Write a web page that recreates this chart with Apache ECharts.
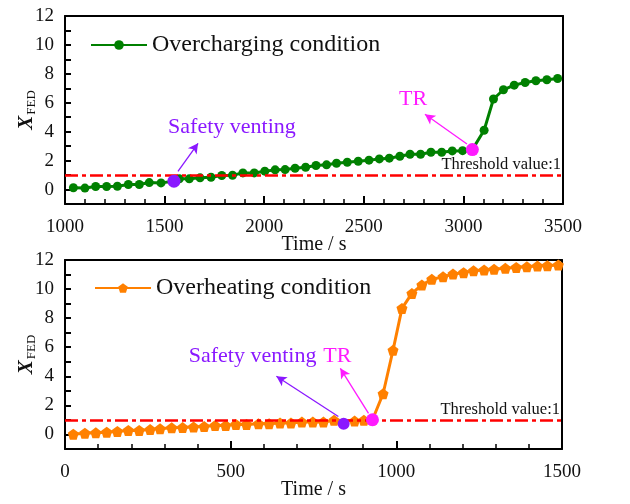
<!DOCTYPE html>
<html>
<head>
<meta charset="utf-8">
<script src="https://cdn.jsdelivr.net/npm/echarts@6/dist/echarts.min.js"></script>
<style>
  html, body { margin: 0; padding: 0; background: #fff; }
  #chart { width: 630px; height: 504px; }
</style>
</head>
<body>
<div id="chart"></div>
<script>
// overcharging condition (top panel)
const chargeTime = [1042, 1100, 1154, 1209, 1263, 1318, 1373, 1423, 1482, 1547, 1574, 1624, 1678, 1733, 1787, 1841,
  1893, 1950, 2003, 2055, 2105, 2155, 2208, 2260, 2313, 2363, 2417, 2472, 2526, 2578, 2628, 2681, 2732, 2785,
  2837, 2891, 2944, 2996, 3045, 3104, 3151, 3201, 3255, 3310, 3364, 3419, 3473];
const chargeFed = [0.12, 0.1, 0.21, 0.21, 0.23, 0.35, 0.35, 0.48, 0.46, 0.58, 0.74, 0.74, 0.81, 0.85, 0.97, 0.99,
  1.15, 1.15, 1.27, 1.36, 1.38, 1.47, 1.54, 1.66, 1.71, 1.82, 1.89, 1.96, 2.03, 2.12, 2.17, 2.3, 2.44, 2.44,
  2.58, 2.58, 2.67, 2.69, 2.76, 4.1, 6.26, 6.9, 7.22, 7.4, 7.52, 7.59, 7.68];

// overheating condition (bottom panel)
const heatTime = [25, 60, 93, 126, 158, 191, 224, 257, 287, 322, 355, 388, 420, 453, 485, 516, 548, 584, 616, 649,
  682, 715, 748, 780, 812, 874, 902, 928, 960, 990, 1017, 1047, 1077, 1107, 1141, 1171, 1203, 1233, 1265, 1295,
  1329, 1362, 1394, 1426, 1456, 1489];
const heatFed = [0.02, 0.09, 0.11, 0.16, 0.21, 0.28, 0.28, 0.34, 0.39, 0.46, 0.48, 0.51, 0.55, 0.62, 0.62, 0.69,
  0.69, 0.74, 0.74, 0.78, 0.78, 0.85, 0.85, 0.85, 0.97, 0.92, 0.97, 1.01, 2.8, 5.79, 8.67, 9.7, 10.28, 10.67,
  10.85, 11.03, 11.13, 11.26, 11.31, 11.36, 11.43, 11.49, 11.54, 11.59, 11.61, 11.66];

// highlighted events [time, X_FED]
const chargeVent = [1547, 0.58];
const chargeTR = [3045, 2.76];
const heatVent = [841, 0.74];
const heatTR = [928, 1.01];
const threshold = 1;

const serif = 'Liberation Serif';
const purple = '#8a18ff';
const magenta = '#ff1aff';
const pentagon = 'path://M0,-10 L9.5,-3.1 L5.9,8.1 L-5.9,8.1 L-9.5,-3.1 Z';

const zip = (xs, ys) => xs.map((x, i) => [x, ys[i]]);
const frameLine = () => ({ show: true, onZero: false, lineStyle: { color: '#000', width: 2 } });

// labelled axes (no ticks, those come from the tick-only axes below)
function yAxisOpt(gridIndex) {
  return {
    gridIndex: gridIndex,
    type: 'value',
    position: 'left',
    min: -1,
    max: 12,
    interval: 2,
    name: '{x|X}{s|FED}',
    nameLocation: 'middle',
    nameGap: 27,
    nameMoveOverlap: false,
    nameRotate: 90,
    nameTextStyle: {
      rich: {
        x: { fontFamily: serif, fontSize: 21, fontStyle: 'italic', fontWeight: 'bold', color: '#111' },
        s: { fontFamily: serif, fontSize: 13, color: '#111', padding: [10, 0, 0, 1] }
      }
    },
    axisLine: frameLine(),
    axisTick: { show: false },
    axisLabel: {
      fontFamily: serif, fontSize: 19, color: '#111', margin: 11,
      customValues: [0, 2, 4, 6, 8, 10, 12]
    },
    splitLine: { show: false }
  };
}

function xAxisOpt(gridIndex, min, max) {
  return {
    gridIndex: gridIndex,
    type: 'value',
    position: 'bottom',
    min: min,
    max: max,
    interval: 500,
    name: 'Time / s',
    nameLocation: 'middle',
    nameGap: 31,
    nameMoveOverlap: false,
    nameTextStyle: { fontFamily: serif, fontSize: 20, color: '#111' },
    axisLine: frameLine(),
    axisTick: { show: false },
    axisLabel: { fontFamily: serif, fontSize: 19, color: '#111', margin: 14, formatter: v => String(v) },
    splitLine: { show: false }
  };
}

// tick-only axes laid over the labelled ones
function tickX(gridIndex, min, max) {
  return {
    gridIndex: gridIndex, type: 'value', position: 'bottom', min: min, max: max, interval: 500,
    axisLine: { show: false, onZero: false },
    axisTick: { show: true, inside: true, length: 8, lineStyle: { color: '#000', width: 2 } },
    minorTick: { show: true, splitNumber: 5, length: 5, lineStyle: { color: '#000', width: 1.5 } },
    axisLabel: { show: false }, splitLine: { show: false }
  };
}
function tickY(gridIndex) {
  return {
    gridIndex: gridIndex, type: 'value', position: 'left', min: -1, max: 12, interval: 1,
    axisLine: { show: false, onZero: false },
    axisTick: { show: true, inside: true, length: 6, lineStyle: { color: '#000', width: 2 } },
    axisLabel: { show: false }, splitLine: { show: false }
  };
}

// plain axes that close the frame on the top and right
function frameX(gridIndex, min, max) {
  return { gridIndex: gridIndex, type: 'value', position: 'top', min: min, max: max,
    axisLine: frameLine(), axisTick: { show: false }, axisLabel: { show: false }, splitLine: { show: false } };
}
function frameY(gridIndex) {
  return { gridIndex: gridIndex, type: 'value', position: 'right', min: -1, max: 12,
    axisLine: frameLine(), axisTick: { show: false }, axisLabel: { show: false }, splitLine: { show: false } };
}

// threshold line + two arrows, all in one markLine
function lines(arrows) {
  const data = [{
    yAxis: threshold,
    lineStyle: { color: '#ff0000', width: 2.5, type: [13, 4, 4, 4] },
    label: {
      show: true, position: 'insideEndTop', formatter: 'Threshold value:' + threshold,
      fontFamily: serif, fontSize: 16.5, color: '#111', distance: 2
    }
  }];
  arrows.forEach(a => {
    data.push([
      { coord: a.from, symbol: 'none', lineStyle: { color: a.color, width: 1.3, type: 'solid' }, label: { show: false } },
      { coord: a.to, symbol: 'arrow' }
    ]);
  });
  return { silent: true, symbol: 'none', symbolSize: [8, 10], label: { show: false }, data: data };
}

// event dots + their text labels
function points(events) {
  const data = [];
  events.forEach(e => {
    data.push({ coord: e.at, symbol: 'circle', symbolSize: e.size, itemStyle: { color: e.color }, label: { show: false } });
    data.push({
      coord: e.textAt, symbol: 'circle', symbolSize: 0,
      label: { show: true, position: 'inside', formatter: e.text, fontFamily: serif, fontSize: 22, color: e.color }
    });
  });
  return { silent: true, animation: false, data: data };
}

const chart = echarts.init(document.getElementById('chart'));

chart.setOption({
  animation: false,
  grid: [
    { left: 65, right: 67, top: 16, height: 188, outerBoundsMode: 'none' },
    { left: 65, right: 68, top: 260, height: 189, outerBoundsMode: 'none' }
  ],
  legend: [
    {
      data: ['Overcharging condition'], left: 85, top: 28, itemWidth: 56, itemHeight: 12, itemGap: 12,
      textStyle: { fontFamily: serif, fontSize: 24, color: '#111' }
    },
    {
      data: ['Overheating condition'], left: 89, top: 271, itemWidth: 56, itemHeight: 12, itemGap: 8,
      textStyle: { fontFamily: serif, fontSize: 24, color: '#111' }
    }
  ],
  xAxis: [xAxisOpt(0, 1000, 3500), xAxisOpt(1, 0, 1500), frameX(0, 1000, 3500), frameX(1, 0, 1500),
    tickX(0, 1000, 3500), tickX(1, 0, 1500)],
  yAxis: [yAxisOpt(0), yAxisOpt(1), frameY(0), frameY(1), tickY(0), tickY(1)],
  series: [
    {
      name: 'Overcharging condition',
      type: 'line',
      xAxisIndex: 0, yAxisIndex: 0,
      data: zip(chargeTime, chargeFed),
      symbol: 'circle', symbolSize: 9,
      itemStyle: { color: '#008000' },
      lineStyle: { color: '#008000', width: 3 },
      markLine: lines([
        { color: purple, from: [1567, 1.25], to: [1668, 3.2] },
        { color: magenta, from: [3018, 3.15], to: [2807, 5.2] }
      ]),
      markPoint: points([
        { at: chargeVent, size: 13, color: purple, text: 'Safety venting', textAt: [1838, 4.3] },
        { at: chargeTR, size: 13, color: magenta, text: 'TR', textAt: [2747, 6.25] }
      ])
    },
    {
      name: 'Overheating condition',
      type: 'line',
      xAxisIndex: 1, yAxisIndex: 1,
      data: zip(heatTime, heatFed),
      symbol: pentagon, symbolSize: 11,
      itemStyle: { color: '#ff8000' },
      lineStyle: { color: '#ff8000', width: 3 },
      markLine: lines([
        { color: purple, from: [825, 1.24], to: [638, 4.0] },
        { color: magenta, from: [916, 1.45], to: [831, 4.55] }
      ]),
      markPoint: points([
        { at: heatVent, size: 12, color: purple, text: 'Safety venting', textAt: [566, 5.4] },
        { at: heatTR, size: 13, color: magenta, text: 'TR', textAt: [822, 5.4] }
      ])
    }
  ]
});
</script>
</body>
</html>
